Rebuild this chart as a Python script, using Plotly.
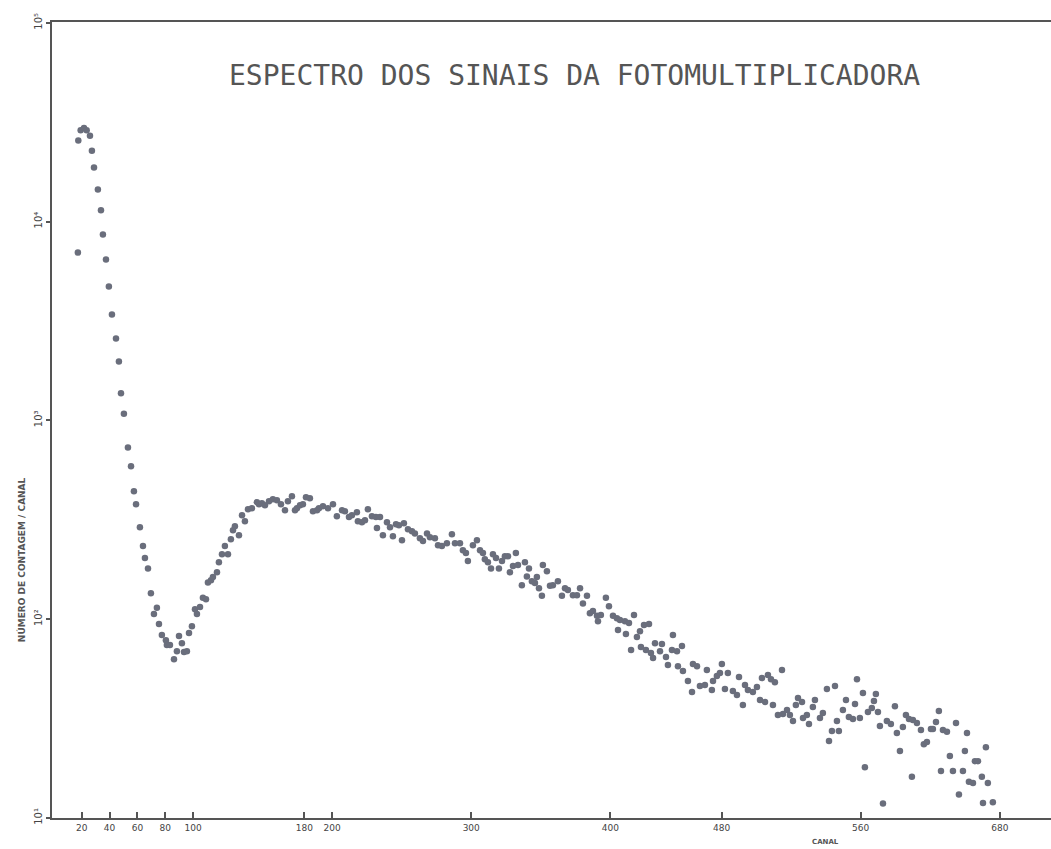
import plotly.graph_objects as go

# --- data (canal, contagens por canal) ---
canal_pico = [17.2, 17.5, 19.2, 21.6, 23.5, 25.9, 27.3, 28.8, 31.6, 33.8, 35.2, 37.4, 39.5, 41.7,
              44.6, 46.7, 48.2, 50.3, 53.2, 55.4, 57.5, 59.0, 61.8, 64.0, 65.4, 67.6, 69.7, 71.9,
              74.0, 75.5, 77.6, 80.5, 81.2, 83.4, 86.3, 88.4, 89.9, 92.0, 93.5, 95.6, 97.1, 99.2]
cont_pico = [6980, 25600, 28800, 29600, 28800, 27000, 22700, 18700, 14500, 11400, 8610, 6440, 4710, 3410,
             2580, 1980, 1370, 1080, 731, 587, 440, 378, 290, 233, 203, 180, 135, 106,
             114, 94.4, 83.2, 78.4, 74.0, 74.0, 62.9, 69.0, 82.2, 75.7, 68.3, 69.0, 85.1, 92.2]

canal_subida = [101.4, 102.8, 105.0, 107.1, 109.3, 110.7, 112.9, 114.3, 117.2, 118.6, 120.8, 122.9,
                125.1, 127.2, 128.7, 130.1, 133.0, 135.2, 137.3, 139.5, 142.3, 145.9, 147.4, 149.5,
                151.7, 154.6, 157.4, 160.3, 163.2, 166.1, 168.2, 171.1, 173.3, 174.7, 176.9, 179.0,
                181.2, 184.0, 186.2, 189.1, 190.5, 193.4, 197.0]
cont_subida = [112, 106, 115, 128, 126, 153, 157, 163, 172, 193, 212, 233,
               212, 252, 280, 293, 264, 333, 311, 357, 361, 387, 378, 383,
               374, 392, 401, 396, 378, 353, 392, 415, 353, 361, 374, 378,
               410, 406, 349, 353, 361, 370, 361]

canal_meio = [200.6, 203.4, 207.1, 209.2, 212.1, 214.2, 217.8, 218.5, 221.4, 223.6, 225.7, 228.6,
              231.5, 232.2, 234.4, 236.5, 239.4, 241.6, 243.7, 245.9, 248.0, 250.2, 251.6, 254.5,
              257.4, 259.5, 263.1, 265.3, 268.2, 270.3, 273.9, 276.1, 278.9, 282.5, 286.1, 288.3,
              291.9, 294.0, 296.2, 297.6, 301.2, 304.1, 306.3, 308.4, 309.8, 312.0, 314.2, 315.6,
              317.8, 319.9, 322.1, 324.2, 326.4, 327.8, 330.0, 332.1, 333.6, 336.4, 338.6, 340.0,
              341.5, 343.6, 345.8, 347.2, 348.7, 350.8, 351.5, 354.4, 356.6, 358.7, 362.3, 365.2,
              367.4, 369.5, 373.1, 376.0, 378.2, 380.3, 383.2, 385.3, 387.5, 390.4, 391.1, 393.2,
              396.8, 399.0]
cont_meio = [378, 329, 353, 349, 326, 333, 345, 311, 307, 314, 357, 329,
             326, 287, 326, 264, 307, 290, 261, 300, 297, 249, 304, 283,
             277, 270, 255, 247, 270, 258, 255, 235, 233, 241, 267, 241,
             241, 222, 215, 196, 235, 249, 222, 215, 200, 193, 180, 212,
             203, 180, 196, 207, 207, 172, 185, 215, 187, 148, 193, 164,
             180, 155, 152, 163, 143, 131, 187, 174, 147, 148, 155, 131,
             143, 140, 132, 132, 143, 120, 131, 107, 110, 104, 97.7, 105,
             128, 116]

canal_cauda1 = [401.9, 404.7, 405.5, 406.9, 410.5, 411.2, 413.4, 414.9, 417.0, 419.1, 421.3, 422.0,
                424.2, 425.6, 427.8, 429.2, 430.7, 432.1, 435.7, 437.1, 440.0, 441.4, 444.3, 445.0,
                447.9, 448.6, 451.5, 452.2, 455.8, 458.7, 459.4, 462.3, 464.4, 468.0, 469.4, 473.0,
                473.8, 476.6]
cont_cauda1 = [104, 101, 88.1, 98.9, 97.7, 84.1, 95.5, 69.9, 105, 81.2, 87.0, 72.3,
               93.3, 69.9, 94.4, 67.5, 63.7, 75.7, 69.0, 74.9, 64.4, 58.7, 69.9, 83.2,
               69.0, 58.0, 73.2, 54.8, 48.8, 43.0, 59.4, 58.0, 46.1, 46.6, 55.4, 44.0,
               48.8, 51.7]

canal_cauda2 = [478.8, 480.2, 482.4, 484.5, 488.1, 491.0, 492.5, 495.3, 496.8, 498.9, 502.5, 505.4,
                507.6, 509.0, 511.2, 513.3, 515.5, 516.9, 518.3, 520.5, 523.4, 524.1, 527.0, 529.1,
                531.3, 533.4, 534.9, 537.8, 538.5, 541.3, 542.8, 545.6, 547.1, 550.7, 552.8, 555.7,
                557.2, 559.3, 561.5, 562.9, 564.3, 567.2, 569.4, 571.5, 574.4, 575.9, 577.3, 579.4,
                581.6, 583.0, 585.2, 588.0, 589.5, 590.9, 592.4, 593.8, 596.0, 598.8, 601.7, 604.6,
                606.0, 608.2, 610.3, 612.5, 614.7, 616.8, 617.5, 620.4, 623.3, 625.4, 627.6, 630.5,
                631.9, 634.1, 636.2, 637.7, 639.1, 642.0, 644.1, 646.3, 648.5, 650.6, 653.5, 654.9,
                656.4, 657.8, 660.7, 662.1, 664.3, 667.1, 667.9, 670.0, 671.4, 675.0]
cont_cauda2 = [53.5, 59.4, 44.5, 53.5, 43.5, 41.5, 51.1, 37.0, 46.6, 44.0, 43.0, 45.5,
               39.2, 50.5, 38.3, 52.3, 49.9, 37.0, 48.2, 32.9, 55.4, 33.3, 34.9, 32.9,
               30.7, 37.0, 40.1, 38.3, 31.8, 32.9, 29.7, 36.1, 39.2, 31.8, 33.7, 44.5,
               24.4, 27.4, 46.1, 30.7, 27.4, 34.9, 39.2, 32.2, 31.4, 37.4, 49.9, 31.8,
               42.5, 18.0, 34.1, 35.7, 38.7, 42.0, 34.1, 29.0, 11.8, 30.7, 29.7, 36.5,
               26.7, 21.7, 28.7, 32.9, 31.4, 16.1, 31.1, 30.0, 27.7, 23.5, 24.1, 28.0,
               28.0, 30.4, 34.5, 17.2, 27.7, 27.1, 20.5, 17.2, 30.0, 13.1, 17.2, 21.7,
               26.7, 15.2, 15.0, 19.3, 19.3, 16.1, 11.9, 22.7, 15.0, 12.0]

x_tick_vals = [20, 40, 60, 80, 100, 180, 200, 300, 400, 480, 580, 680]
x_tick_text = ["20", "40", "60", "80", "100", "180", "200", "300", "400", "480", "560", "680"]
y_tick_vals = [10, 100, 1000, 10000, 100000]
y_tick_text = ["10¹", "10²", "10³", "10⁴", "10⁵"]

canal = canal_pico + canal_subida + canal_meio + canal_cauda1 + canal_cauda2
contagem = cont_pico + cont_subida + cont_meio + cont_cauda1 + cont_cauda2

fig = go.Figure()
fig.add_trace(go.Scatter(
    x=canal, y=contagem, mode="markers",
    marker=dict(size=6.5, color="#6a6e7c"),
    showlegend=False,
))

axis_col = "#555555"
fig.update_layout(
    width=1051, height=849,
    margin=dict(l=52, r=0, t=22, b=31),
    paper_bgcolor="white", plot_bgcolor="white",
    font=dict(family="DejaVu Sans", color="#444444"),
    xaxis=dict(
        range=[-1.4, 716.8], showgrid=False, zeroline=False,
        showline=True, linecolor=axis_col, linewidth=2, mirror=True,
        tickmode="array", tickvals=x_tick_vals, ticktext=x_tick_text,
        ticks="inside", ticklen=6, tickwidth=1.5, tickcolor=axis_col,
        tickfont=dict(size=9, color="#444444"),
    ),
    yaxis=dict(
        type="log", range=[0.9995, 5.004], showgrid=False, zeroline=False,
        showline=True, linecolor=axis_col, linewidth=2,
        tickmode="array", tickvals=y_tick_vals, ticktext=y_tick_text,
        ticks="outside", ticklen=4, tickwidth=1.5, tickcolor=axis_col,
        tickangle=-90, tickfont=dict(size=10, color="#444444"),
    ),
    annotations=[
        dict(text="ESPECTRO DOS SINAIS DA FOTOMULTIPLICADORA",
             xref="paper", yref="paper", x=0.5235, y=0.933,
             xanchor="center", yanchor="middle", showarrow=False,
             font=dict(family="DejaVu Sans Mono", size=28, color="#555555")),
        dict(text="<b>NÚMERO DE CONTAGEM / CANAL</b>",
             xref="paper", yref="paper", x=-0.031, y=0.324,
             xanchor="center", yanchor="middle", showarrow=False, textangle=-90,
             font=dict(family="DejaVu Sans", size=9, color="#555555")),
        dict(text="<b>CANAL</b>",
             xref="paper", yref="paper", x=0.774, y=-0.030,
             xanchor="center", yanchor="middle", showarrow=False,
             font=dict(family="DejaVu Sans", size=7, color="#555555")),
    ],
)

fig.write_html("out.html")
